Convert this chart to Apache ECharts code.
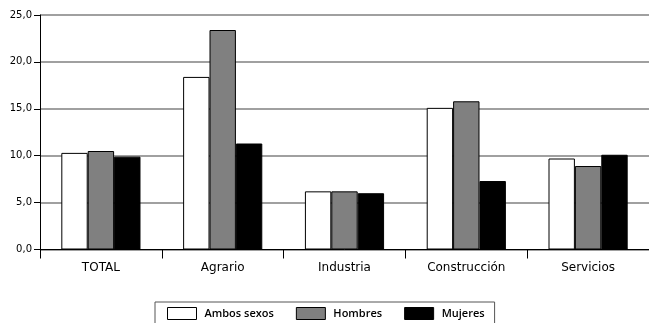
<!DOCTYPE html>
<html>
<head>
<meta charset="utf-8">
<script src="https://cdn.jsdelivr.net/npm/echarts@6/dist/echarts.min.js"></script>
<style>
  html, body { margin: 0; padding: 0; background: #fff; }
  #chart { width: 649px; height: 323px; }
</style>
</head>
<body>
<div id="chart"></div>
<script>
// Sectores de actividad
const categories = ['TOTAL', 'Agrario', 'Industria', 'Construcción', 'Servicios'];

// Valores por sexo
const ambosSexos = [10.3, 18.4, 6.2, 15.1, 9.7];
const hombres    = [10.5, 23.4, 6.2, 15.8, 8.9];
const mujeres    = [9.9, 11.3, 6.0, 7.3, 10.1];

// Eje vertical
const yMin = 0;
const yMax = 25;
const yStep = 5;

const chart = echarts.init(document.getElementById('chart'));

const barBorder = { borderColor: '#000', borderWidth: 1 };

chart.setOption({
  animation: false,
  textStyle: { fontFamily: 'DejaVu Sans' },
  grid: { left: 40, right: 0, top: 15, bottom: 73.5, containLabel: false },
  legend: {
    left: 155,
    top: 302,
    icon: 'rect',
    itemWidth: 29,
    itemHeight: 12,
    itemGap: 22,
    padding: [5, 10, 6, 12],
    borderColor: '#555',
    borderWidth: 1,
    textStyle: { fontFamily: 'Open Sans', fontWeight: 600, fontSize: 11, color: '#000', padding: [0, 0, 0, 3] },
    data: [
      { name: 'Ambos sexos', itemStyle: { color: '#fff', borderColor: '#000', borderWidth: 1 } },
      { name: 'Hombres', itemStyle: { color: '#808080', borderColor: '#000', borderWidth: 1 } },
      { name: 'Mujeres', itemStyle: { color: '#000', borderColor: '#000', borderWidth: 1 } }
    ]
  },
  xAxis: {
    type: 'category',
    data: categories,
    axisLine: { lineStyle: { color: '#000', width: 1 } },
    axisTick: { show: true, length: 9, interval: 0, lineStyle: { color: '#000' } },
    axisLabel: { color: '#000', fontSize: 12, margin: 12, interval: 0 }
  },
  yAxis: {
    type: 'value',
    min: yMin,
    max: yMax,
    interval: yStep,
    axisLine: { show: true, lineStyle: { color: '#000', width: 1 } },
    axisTick: { show: true, length: 6, lineStyle: { color: '#000' } },
    axisLabel: {
      color: '#000',
      fontSize: 10,
      margin: 8,
      formatter: v => v.toFixed(1).replace('.', ',')
    },
    splitLine: { show: true, lineStyle: { color: '#808080', width: 1.5 } }
  },
  series: [
    { name: 'Ambos sexos', type: 'bar', data: ambosSexos, barGap: '0%', barCategoryGap: '35%',
      itemStyle: Object.assign({ color: '#fff' }, barBorder) },
    { name: 'Hombres', type: 'bar', data: hombres, barGap: '0%', barCategoryGap: '35%',
      itemStyle: Object.assign({ color: '#808080' }, barBorder) },
    { name: 'Mujeres', type: 'bar', data: mujeres, barGap: '0%', barCategoryGap: '35%',
      itemStyle: Object.assign({ color: '#000' }, barBorder) }
  ]
});
</script>
</body>
</html>
